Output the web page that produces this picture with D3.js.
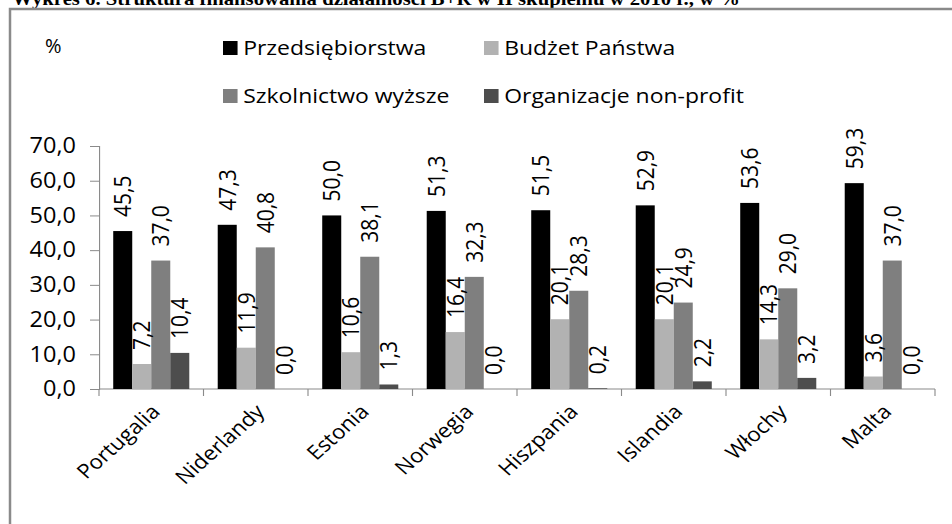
<!DOCTYPE html>
<html>
<head>
<meta charset="utf-8">
<script src="https://cdn.jsdelivr.net/npm/d3@7"></script>
<style>
  html, body { margin: 0; padding: 0; background: #fff; }
  text { font-family: "Open Sans", sans-serif; fill: #000; }
</style>
</head>
<body>
<div id="chart"></div>
<script>
// dane
const title = "Wykres 6. Struktura finansowania działalności B+R w II skupieniu w 2010 r., w %";
const categories = ["Portugalia", "Niderlandy", "Estonia", "Norwegia", "Hiszpania", "Islandia", "Włochy", "Malta"];
const seriesNames = ["Przedsiębiorstwa", "Budżet Państwa", "Szkolnictwo wyższe", "Organizacje non-profit"];
const przedsiebiorstwa = [45.5, 47.3, 50.0, 51.3, 51.5, 52.9, 53.6, 59.3];
const budzetPanstwa = [7.2, 11.9, 10.6, 16.4, 20.1, 20.1, 14.3, 3.6];
const szkolnictwoWyzsze = [37.0, 40.8, 38.1, 32.3, 28.3, 24.9, 29.0, 37.0];
const nonProfit = [10.4, 0.0, 1.3, 0.0, 0.2, 2.2, 3.2, 0.0];
const yTicks = [0, 10, 20, 30, 40, 50, 60, 70];
const colors = ["#000000", "#b2b2b2", "#7f7f7f", "#4d4d4d"];

const seriesValues = [przedsiebiorstwa, budzetPanstwa, szkolnictwoWyzsze, nonProfit];

let width = 952, height = 524;
// obraz oryginalny jest rozciagniety w poziomie
let sx = 1.12;

let svg = d3.select("#chart")
    .append("svg")
    .attr("width", width)
    .attr("height", height);

// tytul (przyciety u gory, tak jak w oryginale)
svg.append("text")
    .attr("x", 12)
    .attr("y", 5)
    .attr("textLength", 728)
    .attr("lengthAdjust", "spacingAndGlyphs")
    .style("font-family", "'Liberation Serif', serif")
    .style("font-weight", "bold")
    .style("font-size", "18px")
    .text(title);

// ramka
svg.append("rect")
    .attr("x", 10)
    .attr("y", 9)
    .attr("width", 1000)
    .attr("height", 600)
    .attr("fill", "none")
    .attr("stroke", "#8a8a8a")
    .attr("stroke-width", 2.5);

let g = svg.append("g")
    .attr("transform", "scale(" + sx + ",1)");

let plot = { left: 99 / sx, right: 935 / sx, top: 146, bottom: 389 };

let x0 = d3.scaleBand()
    .domain(categories)
    .range([plot.left, plot.right]);

let groupPad = 12.7;
let x1 = d3.scaleBand()
    .domain(seriesNames)
    .range([groupPad, x0.bandwidth() - groupPad]);

let y = d3.scaleLinear()
    .domain([0, 70])
    .range([plot.bottom, plot.top]);

let fmt = v => d3.format(".1f")(v).replace(".", ",");

// os Y
let yAxis = g.append("g")
    .attr("transform", "translate(" + plot.left + ",0)")
    .call(d3.axisLeft(y).tickValues(yTicks).tickSize(9 / sx).tickPadding(14 / sx).tickFormat(fmt));
yAxis.select(".domain").attr("stroke", "#8a8a8a");
yAxis.selectAll(".tick line").attr("stroke", "#8a8a8a");
yAxis.selectAll(".tick text")
    .style("font-size", "21px")
    .style("font-family", "'Open Sans', sans-serif")
    .attr("fill", "#000");

// os X
let xAxis = g.append("g")
    .attr("transform", "translate(0," + plot.bottom + ")");
xAxis.append("line")
    .attr("x1", plot.left).attr("x2", plot.right)
    .attr("stroke", "#8a8a8a");
xAxis.selectAll("line.tk")
    .data(categories.concat([null]))
    .enter()
    .append("line")
    .attr("class", "tk")
    .attr("x1", (d, i) => plot.left + i * x0.step())
    .attr("x2", (d, i) => plot.left + i * x0.step())
    .attr("y1", 0).attr("y2", 7)
    .attr("stroke", "#8a8a8a");

xAxis.selectAll("text.cat")
    .data(categories)
    .enter()
    .append("text")
    .attr("class", "cat")
    .attr("text-anchor", "end")
    .attr("transform", d => "translate(" + (x0(d) + x0.bandwidth() / 2 + 10 / sx) + ",24) rotate(-45)")
    .style("font-size", "20px")
    .text(d => d);

// slupki
let groups = g.append("g")
    .selectAll("g")
    .data(categories)
    .enter()
    .append("g")
    .attr("transform", d => "translate(" + x0(d) + ",0)");

groups.selectAll("rect")
    .data((d, i) => seriesNames.map((s, j) => ({ s: s, v: seriesValues[j][i], c: colors[j] })))
    .enter()
    .append("rect")
    .attr("x", d => x1(d.s))
    .attr("y", d => y(d.v))
    .attr("width", x1.bandwidth())
    .attr("height", d => y(0) - y(d.v))
    .attr("fill", d => d.c);

// etykiety wartosci
groups.selectAll("text")
    .data((d, i) => seriesNames.map((s, j) => ({ s: s, v: seriesValues[j][i] })))
    .enter()
    .append("text")
    .attr("transform", d => "translate(" + (x1(d.s) + x1.bandwidth() / 2) + "," + (y(d.v) - 14) + ") rotate(-90)")
    .attr("dy", "0.36em")
    .style("font-size", "21px")
    .text(d => fmt(d.v));

// legenda
svg.append("text")
    .attr("x", 45)
    .attr("y", 53)
    .style("font-size", "20px")
    .text("%");

let legendPos = [[223, 48], [484, 48], [223, 96], [484, 96]];
let legend = g.append("g")
    .selectAll("g")
    .data(seriesNames)
    .enter()
    .append("g")
    .attr("transform", (d, i) => "translate(" + legendPos[i][0] / sx + "," + legendPos[i][1] + ")");
legend.append("rect")
    .attr("x", 0).attr("y", -7)
    .attr("width", 13).attr("height", 14)
    .attr("fill", (d, i) => colors[i]);
legend.append("text")
    .attr("x", 18)
    .attr("dy", "0.36em")
    .style("font-size", "20.5px")
    .text(d => d);
</script>
</body>
</html>
